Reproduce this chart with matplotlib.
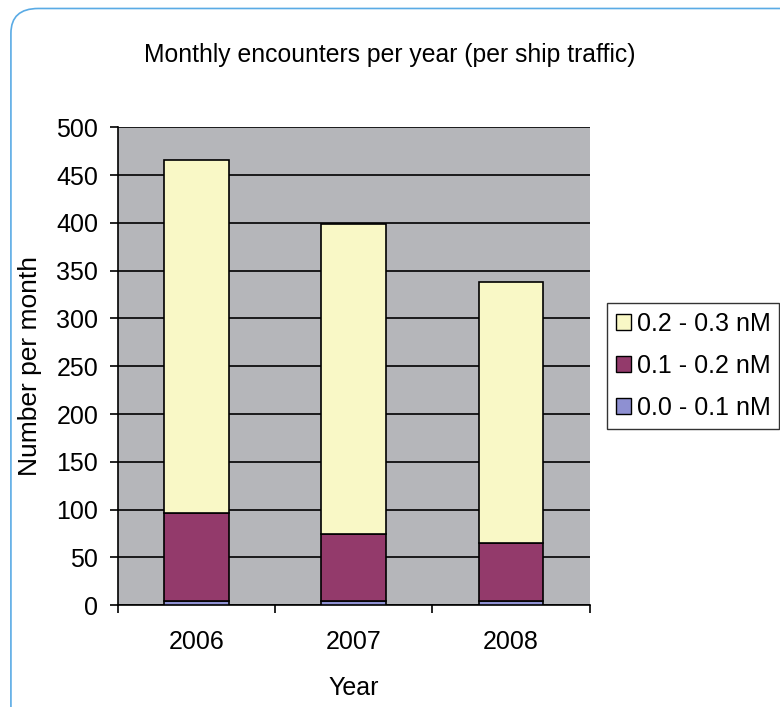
import matplotlib.pyplot as plt
from matplotlib.patches import FancyBboxPatch, Patch

plt.rcParams['font.family'] = ['Liberation Sans', 'DejaVu Sans']

# Data
years = ["2006", "2007", "2008"]
low = [4, 4, 4]          # 0.0 - 0.1 nM
mid = [92, 70, 61]       # 0.1 - 0.2 nM
high = [370, 325, 273]   # 0.2 - 0.3 nM

c_low = "#8e90d2"
c_mid = "#933a6b"
c_high = "#f9f8c6"

fig = plt.figure(figsize=(7.8, 7.07), dpi=100)

# Rounded light-blue frame around the whole chart
frame = FancyBboxPatch((0.014, -0.05), 1.05, 1.038, boxstyle="round,pad=0,rounding_size=0.035",
                       transform=fig.transFigure, facecolor="white", edgecolor="#5aabe5",
                       linewidth=1.2, zorder=-5)
fig.patches.append(frame)

ax = fig.add_axes([0.151, 0.144, 0.605, 0.676])
ax.set_zorder(1)
ax.set_facecolor("#b5b6ba")

x = range(len(years))
w = 0.41
ax.bar(x, low, w, color=c_low, edgecolor="black", linewidth=1.2, zorder=3)
ax.bar(x, mid, w, bottom=low, color=c_mid, edgecolor="black", linewidth=1.2, zorder=3)
bottoms = [a + b for a, b in zip(low, mid)]
ax.bar(x, high, w, bottom=bottoms, color=c_high, edgecolor="black", linewidth=1.2, zorder=3)

ax.set_ylim(0, 500)
ax.set_xlim(-0.5, 2.5)
ax.set_yticks(range(0, 501, 50))
ax.yaxis.grid(True, color="black", linewidth=1.2, zorder=1)
ax.set_axisbelow(True)

ax.set_xticks(list(x))
ax.set_xticklabels(years)
ax.set_xticks([-0.5, 0.5, 1.5, 2.5], minor=True)
ax.tick_params(axis="x", which="major", length=0, pad=18, labelsize=18)
ax.tick_params(axis="x", which="minor", length=6, width=1.2, direction="out")
ax.tick_params(axis="y", length=6, width=1.2, labelsize=18, pad=8)

for side in ["top", "right"]:
    ax.spines[side].set_visible(False)
for side in ["left", "bottom"]:
    ax.spines[side].set_linewidth(1.2)

fig.text(0.5, 0.922, "Monthly encounters per year (per ship traffic)", fontsize=17.8,
         ha="center", va="center")
ax.set_xlabel("Year", fontsize=18, labelpad=16)
ax.set_ylabel("Number per month", fontsize=19, labelpad=10)

handles = [Patch(facecolor=c_high, edgecolor="black"),
           Patch(facecolor=c_mid, edgecolor="black"),
           Patch(facecolor=c_low, edgecolor="black")]
labels = ["0.2 - 0.3 nM", "0.1 - 0.2 nM", "0.0 - 0.1 nM"]
leg = fig.legend(handles, labels, loc="upper left", bbox_to_anchor=(0.778, 0.571),
                 fontsize=18, frameon=True, fancybox=False, edgecolor="black",
                 handlelength=0.6, handleheight=0.6, handletextpad=0.25,
                 borderpad=0.35, labelspacing=0.72, borderaxespad=0)
leg.get_frame().set_linewidth(1.0)

fig.savefig("out.png", dpi=100)
